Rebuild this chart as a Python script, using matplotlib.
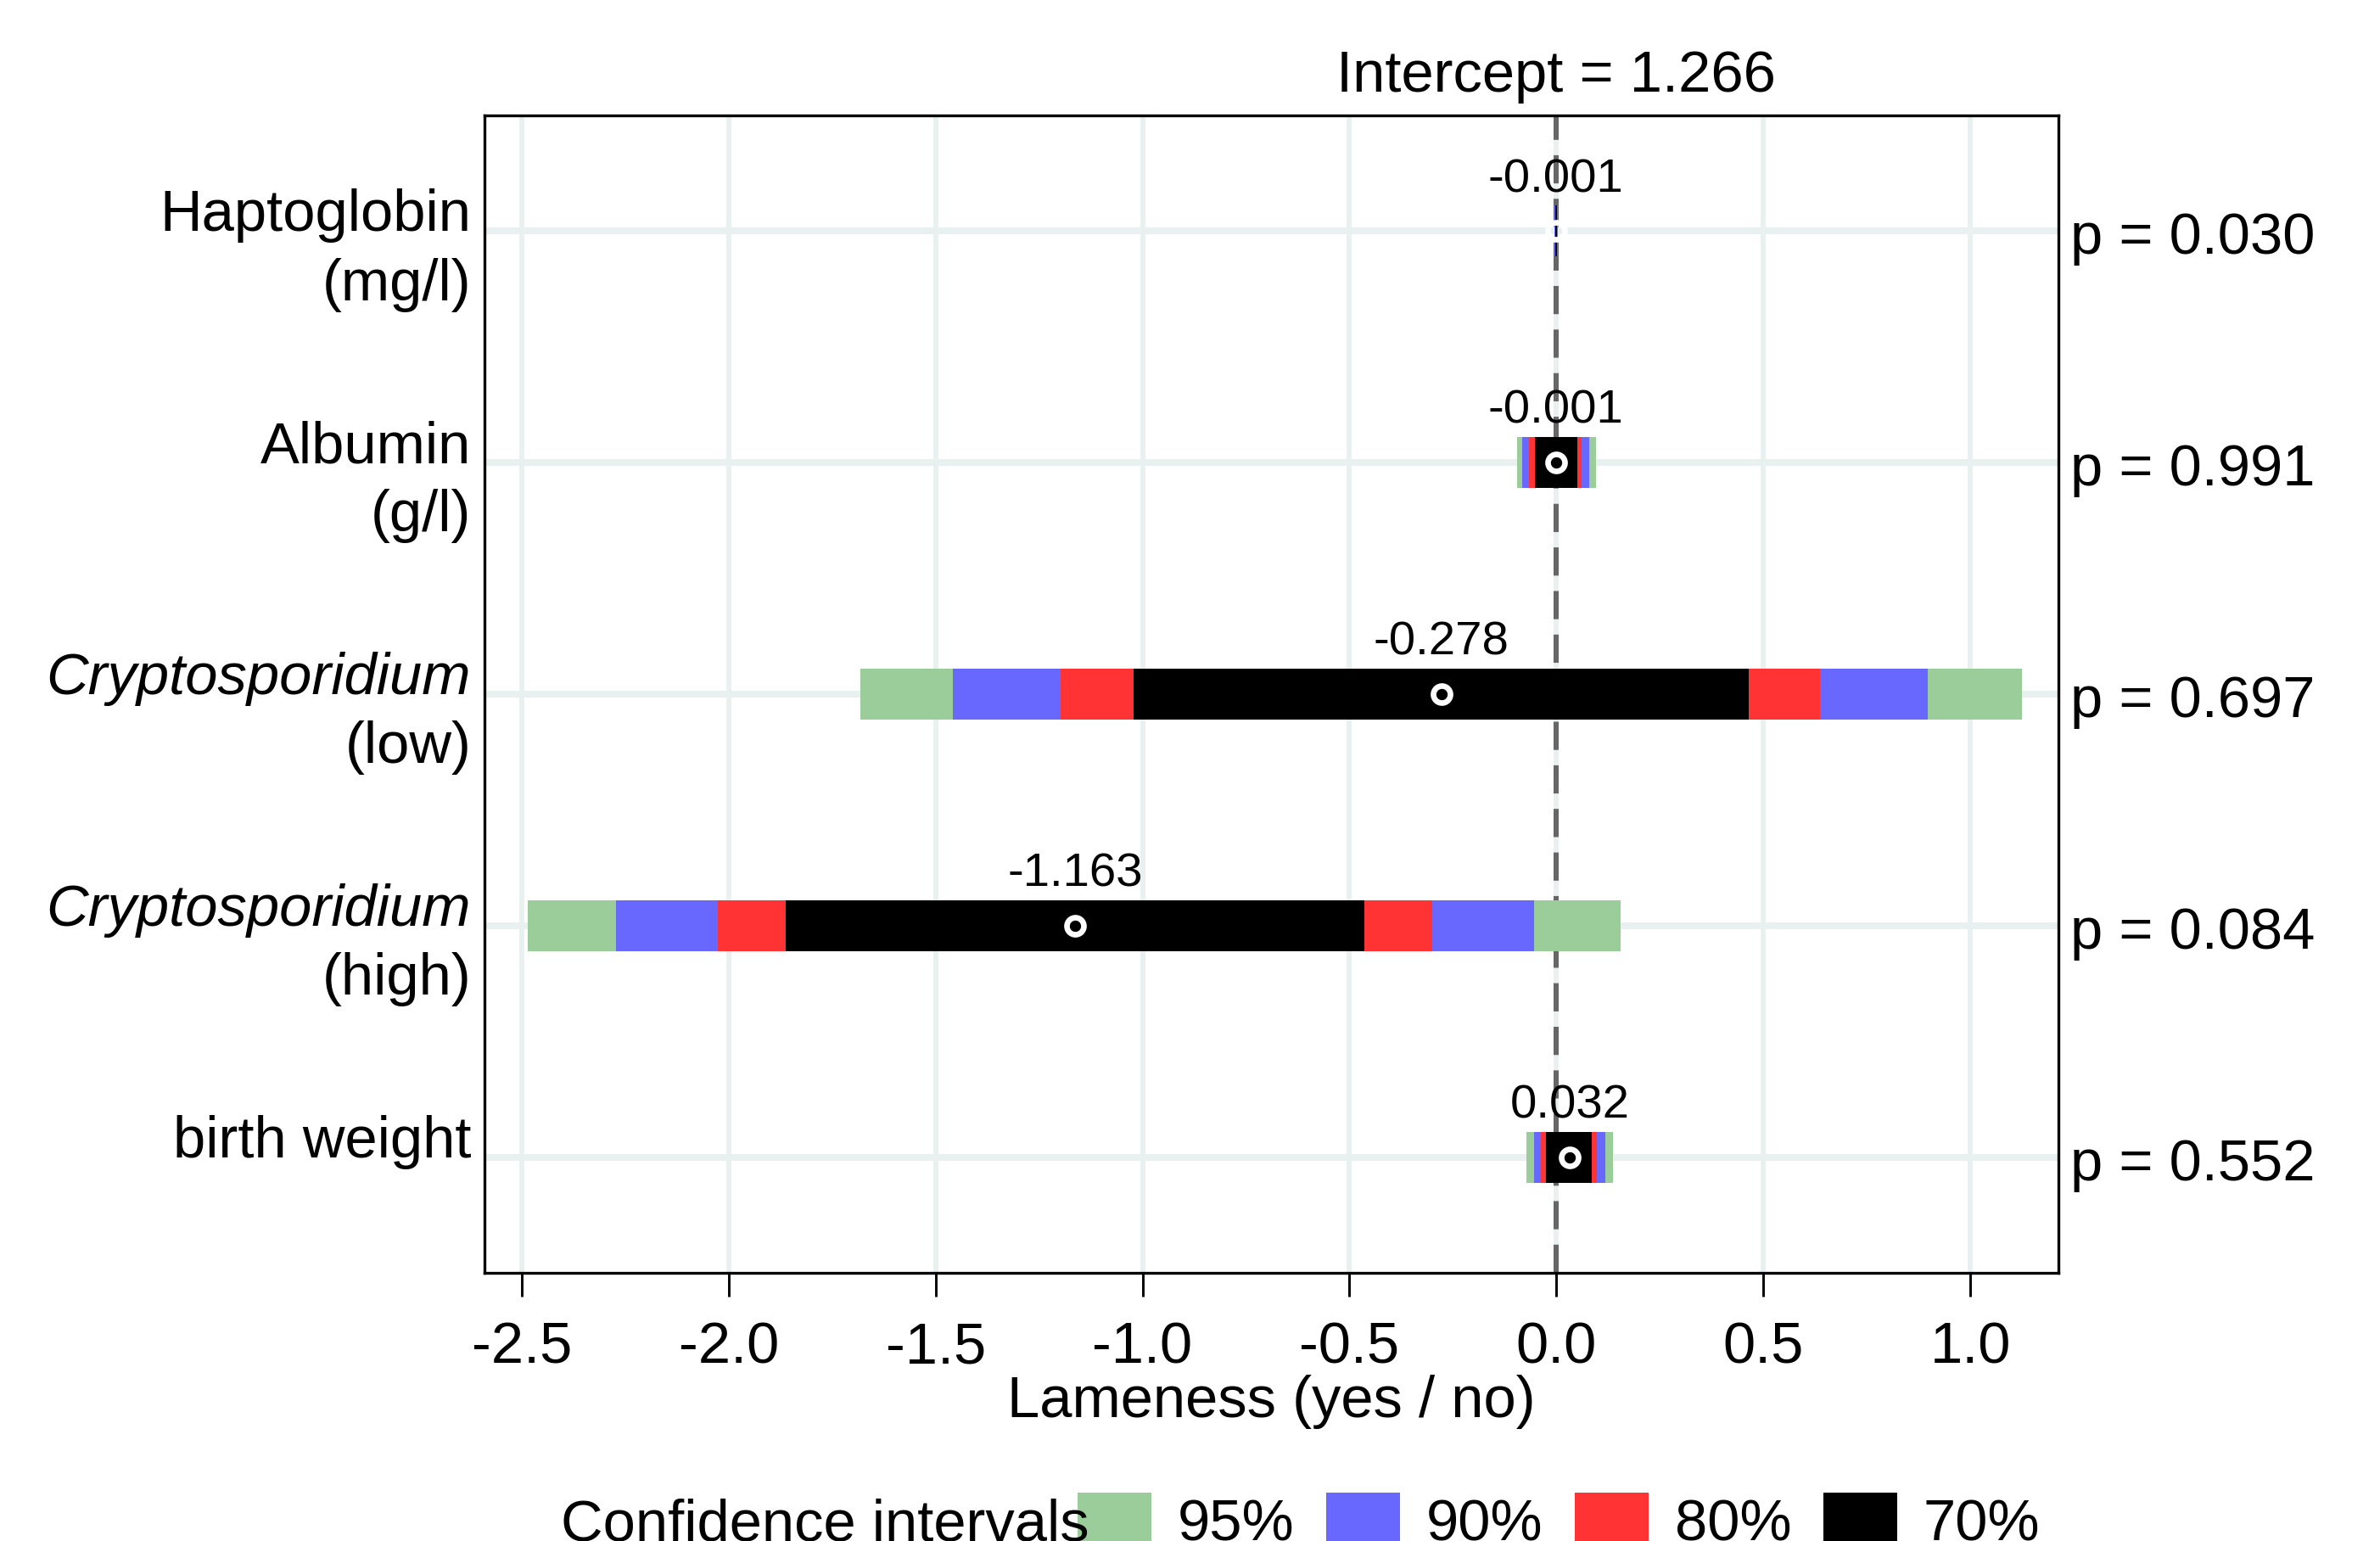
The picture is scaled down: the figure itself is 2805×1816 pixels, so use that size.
import matplotlib
matplotlib.use("Agg")
import matplotlib.pyplot as plt
from matplotlib.patches import Rectangle

plt.rcParams['font.family'] = ['Liberation Sans', 'DejaVu Sans']

# data
line1 = ["Haptoglobin", "Albumin", "Cryptosporidium", "Cryptosporidium", "birth weight"]
line2 = ["(mg/l)", "(g/l)", "(low)", "(high)", ""]
italic1 = [False, False, True, True, False]
estimates = [-0.001, -0.001, -0.278, -1.163, 0.032]
p_values = ["0.030", "0.991", "0.697", "0.084", "0.552"]
intercept = 1.266

ci95_lo = [-0.0055, -0.096, -1.682, -2.486, -0.073]
ci95_hi = [0.0035, 0.095, 1.125, 0.156, 0.136]
ci90_lo = [-0.0047, -0.083, -1.458, -2.273, -0.055]
ci90_hi = [0.0027, 0.079, 0.898, -0.053, 0.119]
ci80_lo = [-0.0037, -0.066, -1.198, -2.027, -0.038]
ci80_hi = [0.0017, 0.061, 0.637, -0.299, 0.098]
ci70_lo = [-0.0030, -0.052, -1.022, -1.862, -0.025]
ci70_hi = [0.0010, 0.050, 0.465, -0.464, 0.085]

ci_names = ["95%", "90%", "80%", "70%"]
ci_colors = ["#9BCD9B", "#6868FF", "#FF3333", "#000000"]
xticks = [-2.5, -2.0, -1.5, -1.0, -0.5, 0.0, 0.5, 1.0]

W, H = 2805, 1816
fig = plt.figure(figsize=(W / 300, H / 300), dpi=300)
ax = fig.add_axes([571 / W, 1 - 1500 / H, (2426 - 571) / W, (1500 - 136) / H])

ypos = list(range(1, len(estimates) + 1))
fs = 16.5

# grid
for xt in xticks:
    ax.axvline(xt, color="#E8F0F0", lw=1.4, zorder=0)
for y in ypos:
    ax.axhline(y, color="#E8F0F0", lw=1.9, zorder=0)

# zero line
ax.axvline(0, color="#666666", lw=1.45, dashes=(5.5, 3), zorder=1)

# stacked intervals, widest first
bounds = [(ci95_lo, ci95_hi), (ci90_lo, ci90_hi), (ci80_lo, ci80_hi), (ci70_lo, ci70_hi)]
for (lo, hi), col in zip(bounds, ci_colors):
    ax.barh(ypos, [h - l for l, h in zip(lo, hi)], left=lo, height=0.22,
            color=col, lw=0, zorder=2)

ax.plot(estimates, ypos, 'o', ms=4.8, mfc='none', mec='white', mew=1.6,
        ls='none', zorder=3)

for y, est in zip(ypos, estimates):
    ax.text(est, y - 0.17, f"{est:.3f}", ha='center', va='baseline',
            fontsize=13.5, zorder=4)

# y labels (first line baseline on the grid line)
for y, a, b, it in zip(ypos, line1, line2, italic1):
    ax.annotate(a, xy=(0, y), xycoords=('axes fraction', 'data'),
                xytext=(-3.8, 0), textcoords='offset points',
                ha='right', va='baseline', fontsize=fs,
                style='italic' if it else 'normal')
    if b:
        ax.annotate(b, xy=(0, y), xycoords=('axes fraction', 'data'),
                    xytext=(-3.8, -19.5), textcoords='offset points',
                    ha='right', va='baseline', fontsize=fs)

# p values on the right
for y, p in zip(ypos, p_values):
    ax.annotate(f"p = {p}", xy=(1, y), xycoords=('axes fraction', 'data'),
                xytext=(3.4, -6.5), textcoords='offset points',
                ha='left', va='baseline', fontsize=fs, annotation_clip=False)

ax.annotate(f"Intercept = {intercept:.3f}", xy=(0, 1), xycoords=('data', 'axes fraction'),
            xytext=(0, 6.7), textcoords='offset points',
            ha='center', va='baseline', fontsize=fs, annotation_clip=False)

ax.set_xlim(-2.590, 1.213)
ax.set_ylim(5.5, 0.5)
ax.set_xticks(xticks)
ax.set_xticklabels([f"{v:.1f}" for v in xticks])
ax.set_yticks([])
ax.tick_params(axis='x', direction='out', length=6.7, width=0.7, pad=6.8,
               labelsize=fs)
for s in ax.spines.values():
    s.set_linewidth(0.8)
ax.set_xlabel("Lameness (yes / no)", fontsize=fs, labelpad=0)

# legend at the bottom, clipped by the figure edge
base = 1 - 1815 / H
fig.text(661 / W, base, "Confidence intervals", fontsize=fs, va='baseline', ha='left')
for i, (name, col) in enumerate(zip(ci_names, ci_colors)):
    x0 = 1270 + i * 293
    fig.patches.append(Rectangle((x0 / W, -0.05), 87 / W, 0.05 + 1 - 1759 / H,
                                 transform=fig.transFigure, color=col, lw=0))
    fig.text((x0 + 118) / W, base, name, fontsize=fs, va='baseline', ha='left')

fig.savefig("out.png", dpi=300)
